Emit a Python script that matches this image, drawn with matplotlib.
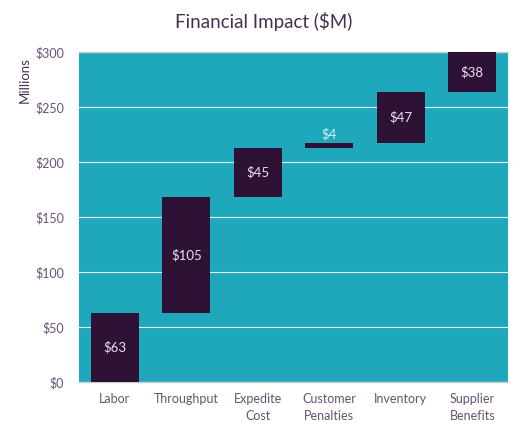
import matplotlib
matplotlib.use("Agg")
import matplotlib.pyplot as plt
import numpy as np

categories = ["Labor", "Throughput", "Expedite\nCost", "Customer\nPenalties", "Inventory", "Supplier\nBenefits"]
values = [63, 105, 45, 4, 47, 38]
yticks = [0, 50, 100, 150, 200, 250, 300]
ytick_labels = ["$0", "$50", "$100", "$150", "$200", "$250", "$300"]

teal = "#1fa7bb"
purple = "#2e1236"
text_col = "#6a5272"
title_col = "#4a2d55"

plt.rcParams['font.family'] = ['Lato', 'DejaVu Sans']

fig = plt.figure(figsize=(5.27, 4.32), dpi=100)
ax = fig.add_axes([0.150, 0.1157, 0.814, 0.7639])
ax.set_facecolor(teal)

bases = np.concatenate([[0], np.cumsum(values)[:-1]])
x = np.arange(len(categories))
ax.bar(x, values, bottom=bases, width=0.67, color=purple, zorder=3)

for xi, b, v in zip(x, bases, values):
    if v < 10:
        ax.text(xi, b + v + 3, f"${v}", ha="center", va="bottom", color="#d8f0f4", fontsize=9.5, zorder=4)
    else:
        mid = b + v / 2
        if b + v > 300:
            mid = (b + 300) / 2
        ax.text(xi, mid, f"${v}", ha="center", va="center", color="#e8e0ec", fontsize=9.5, zorder=4)

ax.set_ylim(0, 300)
ax.set_xlim(-0.5, len(categories) - 0.5)
ax.set_yticks(yticks)
ax.set_yticklabels(ytick_labels)
ax.set_xticks(x)
ax.set_xticklabels(categories, linespacing=1.5)
ax.tick_params(axis="both", length=0, colors=text_col, labelsize=9)
ax.tick_params(axis="x", pad=8)
ax.tick_params(axis="y", pad=11)
ax.grid(axis="y", color="#e8f4f6", linewidth=0.8, zorder=1)
ax.set_axisbelow(True)
for s in ["left", "right"]:
    ax.spines[s].set_visible(False)
ax.spines["top"].set_color("#cccccc")
ax.spines["bottom"].set_color("#cccccc")
ax.spines["top"].set_linewidth(1.0)
ax.spines["bottom"].set_linewidth(1.0)

ax.set_ylabel("Millions", color=title_col, fontsize=9.5)
ax.yaxis.set_label_coords(-0.112, 0.915)
fig.text(0.5, 0.95, "Financial Impact ($M)", ha="center", va="center", color=title_col, fontsize=13.5)

fig.savefig("out.png", dpi=100)
